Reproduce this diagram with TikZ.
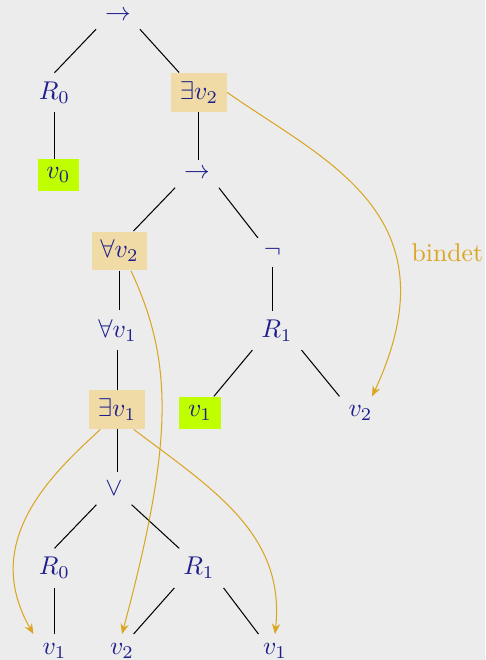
\documentclass[tikz,border=0pt]{standalone}
\usepackage{tikz}
\usepackage{xcolor}
\usetikzlibrary{arrows.meta}

\definecolor{nodeblue}{RGB}{30,30,140}
\definecolor{goldenrod}{RGB}{218,165,32}
\definecolor{bggray}{RGB}{236,236,236}

\begin{document}
\begin{tikzpicture}[
    lab/.style={text=nodeblue, anchor=base},
    bound/.style={fill=goldenrod!40},
    free/.style={fill=lime},
    bindarrow/.style={draw=goldenrod, -{Stealth[length=4pt,width=3.2pt]}}
  ]
                \useasboundingbox (0,0) rectangle (6.635,-9.029);
                \fill[bggray] (0,0) rectangle (6.635,-9.029);

                %% formula tree
                \node[lab] (root) at (1.614,-0.276) {$\rightarrow$};

                \node[lab] (R0a) at (0.745,-1.360) {$R_0$};
                \node[lab, bound] (Ev2) at (2.722,-1.360) {$\exists v_2$};

                \node[lab, free] (v0) at (0.800,-2.445) {$v_0$};
                \node[lab] (imp) at (2.695,-2.445) {$\rightarrow$};

                \node[lab, bound] (Av2) at (1.635,-3.529) {$\forall v_2$};
                \node[lab] (neg) at (3.728,-3.529) {$\neg$};

                \node[lab] (Av1) at (1.607,-4.613) {$\forall v_1$};
                \node[lab] (R1a) at (3.789,-4.613) {$R_1$};

                \node[lab, bound] (Ev1) at (1.601,-5.698) {$\exists v_1$};
                \node[lab, free] (v1g) at (2.736,-5.698) {$v_1$};
                \node[lab] (v2b) at (4.932,-5.698) {$v_2$};

                \node[lab] (disj) at (1.560,-6.781) {$\vee$};

                \node[lab] (R0b) at (0.745,-7.866) {$R_0$};
                \node[lab] (R1b) at (2.722,-7.866) {$R_1$};

                \node[lab] (v1a) at (0.746,-8.949) {$v_1$};
                \node[lab] (v2c) at (1.669,-8.949) {$v_2$};
                \node[lab] (v1c) at (3.762,-8.949) {$v_1$};

                %% edges
                \draw (root.south west) -- (R0a.north);
                \draw (root.south east) -- (Ev2.135);
                \draw (R0a.south) -- (R0a.south |- v0.north);
                \draw (Ev2.south) -- (Ev2.south |- imp.north);
                \draw (imp.south west) -- (Av2.55);
                \draw (imp.south east) -- (neg.135);
                \draw (Av2.south) -- (Av2.south |- Av1.north);
                \draw (neg.south) -- (neg.south |- R1a.north);
                \draw (Av1.south) -- (Av1.south |- Ev1.north);
                \draw (R1a.south west) -- (v1g.50);
                \draw (R1a.south east) -- (v2b.north west);
                \draw (Ev1.south) -- (Ev1.south |- disj.north);
                \draw (disj.south west) -- (R0b.north);
                \draw (disj.south east) -- (R1b.135);
                \draw (R0b.south) -- (R0b.south |- v1a.north);
                \draw (R1b.south west) -- (v2c.55);
                \draw (R1b.south east) -- (v1c.135);

                %% bindings
                \draw[bindarrow] (Ev2.east) to[out=-35, in=65, out distance=1.64cm, in distance=2.74cm] (v2b.55);
                \draw[bindarrow] (Av2.-60) to[out=-65, in=75, out distance=1.37cm, in distance=2.74cm] (v2c.north);
                \draw[bindarrow] (Ev1.-130) to[out=-137, in=120, out distance=0.82cm, in distance=1.5cm] (v1a.north west);
                \draw[bindarrow] (Ev1.-50) to[out=-37, in=84, distance=1.37cm] (v1c.north);

                \node[text=goldenrod, anchor=base] (bindlab) at (6.12,-3.584) {bindet};

            \end{tikzpicture}
\end{document}
